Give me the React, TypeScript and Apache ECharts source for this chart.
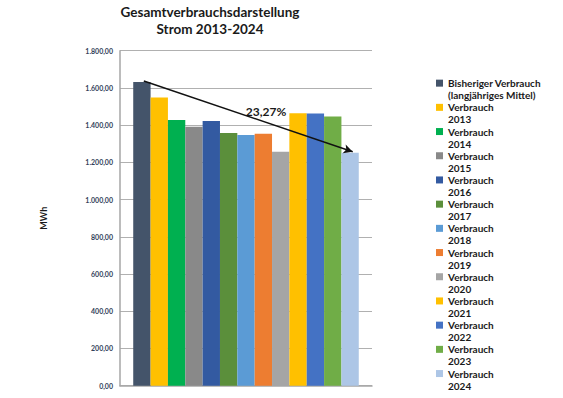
import React, { useEffect, useRef } from "react";
import * as echarts from "echarts";

const categories = [""];
const seriesNames = [
  "Bisheriger Verbrauch\n(langjähriges Mittel)",
  "Verbrauch\n2013",
  "Verbrauch\n2014",
  "Verbrauch\n2015",
  "Verbrauch\n2016",
  "Verbrauch\n2017",
  "Verbrauch\n2018",
  "Verbrauch\n2019",
  "Verbrauch\n2020",
  "Verbrauch\n2021",
  "Verbrauch\n2022",
  "Verbrauch\n2023",
  "Verbrauch\n2024",
];
const values = [1632, 1549, 1427, 1392, 1422, 1358, 1347, 1354, 1257, 1464, 1463, 1446, 1252];
const colors = [
  "#44546A", "#FFC000", "#00B050", "#898989", "#335AA1", "#5B8F3B", "#5B9BD5",
  "#ED7D31", "#A5A5A5", "#FFC000", "#4472C4", "#70AD47", "#ADC6E6",
];
const changeLabel = "23,27%";

const fmt = (v: number) => {
  const fixed = v.toFixed(2);
  const [i, d] = fixed.split(".");
  const withDots = i.replace(/\B(?=(\d{3})+(?!\d))/g, ".");
  return withDots + "," + d;
};

export default function App() {
  const ref = useRef<HTMLDivElement>(null);
  useEffect(() => {
    if (!ref.current) return;
    const chart = echarts.init(ref.current, undefined, { renderer: "svg" });
    const font = "Lato";
    chart.setOption({
      animation: false,
      backgroundColor: "#ffffff",
      title: {
        text: "Gesamtverbrauchsdarstellung\nStrom 2013-2024",
        left: 210,
        top: 4,
        padding: 0,
        textAlign: "center",
        textStyle: { fontFamily: font, fontWeight: "bold", fontSize: 13.5, lineHeight: 16.5, color: "#1a1a1a" },
      },
      legend: {
        orient: "vertical",
        left: 436,
        top: 65,
        padding: 0,
        itemWidth: 7,
        itemHeight: 7,
        itemGap: -12.1,
        icon: "rect",
        data: seriesNames,
        formatter: (name: string) => "\n" + name,
        textStyle: {
          fontFamily: font,
          fontWeight: "bold",
          fontSize: 10,
          lineHeight: 12.1,
          color: "#1a1a1a",
        },
      },
      grid: { left: 120, right: 191, top: 50.7, bottom: 12.3, containLabel: false },
      xAxis: {
        type: "category",
        data: categories,
        axisLine: { lineStyle: { color: "#a6a6a6", width: 1.5 } },
        axisTick: { show: false },
        axisLabel: { show: false },
      },
      yAxis: {
        type: "value",
        min: 0,
        max: 1800,
        interval: 200,
        name: "MWh",
        nameLocation: "middle",
        nameRotate: 90,
        nameGap: 72,
        nameTextStyle: { fontFamily: font, fontWeight: "bold", fontSize: 9, color: "#1a1a1a" },
        axisLine: { show: true, lineStyle: { color: "#a6a6a6", width: 1.5 } },
        axisTick: { show: false },
        axisLabel: {
          formatter: (v: number) => fmt(v),
          fontFamily: font,
          fontWeight: "bold",
          fontSize: 7,
          color: "#33425a",
          margin: 7,
        },
        splitLine: { lineStyle: { color: "#b0b0b0", width: 1 } },
      },
      series: values.map((v, i) => ({
        name: seriesNames[i],
        type: "bar",
        data: [v],
        barGap: "0%",
        barCategoryGap: "10.5%",
        itemStyle: { color: colors[i] },
      })),
    });

    // arrow annotation from first to last bar
    try {
      const model: any = (chart as any).getModel();
      const l0 = model.getSeriesByIndex(0).getData().getItemLayout(0);
      const lN = model.getSeriesByIndex(values.length - 1).getData().getItemLayout(0);
      const x1 = l0.x + l0.width * 0.61;
      const y1 = l0.y + l0.height - 1;
      const x2 = lN.x + lN.width * 0.65;
      const y2 = lN.y + lN.height - 1;
      const t = 0.585;
      const tx = x1 + (x2 - x1) * t;
      const ty = y1 + (y2 - y1) * t - 11;
      chart.setOption({
        series: [
          {
            markLine: {
              silent: true,
              symbol: ["none", "arrow"],
              symbolSize: [7, 9],
              label: { show: false },
              lineStyle: { color: "#111111", width: 1.5, type: "solid" },
              data: [[{ x: x1, y: y1 }, { x: x2, y: y2 }]],
            },
          },
        ],
        graphic: [
          {
            type: "text",
            x: tx,
            y: ty,
            style: {
              text: changeLabel,
              fontFamily: font,
              fontWeight: "bold",
              fontSize: 12,
              fill: "#1a1a1a",
              align: "center",
              verticalAlign: "middle",
            },
          },
        ],
      });
    } catch (e) {
      // ignore
    }
    return () => chart.dispose();
  }, []);
  return <div ref={ref} style={{ width: 563, height: 398, position: "absolute", left: 0, top: 0 }} />;
}
